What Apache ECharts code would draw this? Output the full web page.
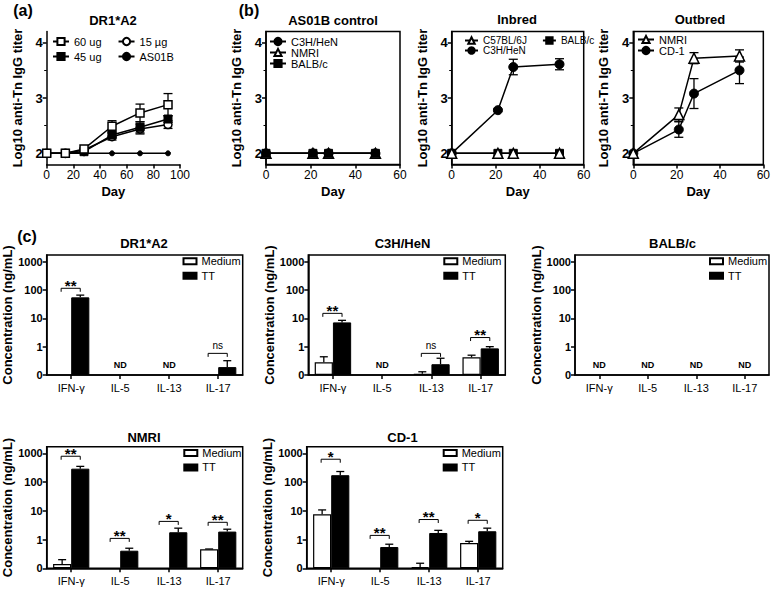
<!DOCTYPE html>
<html><head><meta charset="utf-8">
<script src="https://cdn.jsdelivr.net/npm/echarts@6/dist/echarts.min.js"></script>
<style>html,body{margin:0;padding:0;background:#fff}#c{width:773px;height:589px}</style>
</head><body><div id="c"></div>
<script>
// ================= DATA =================
// (a) DR1*A2 titers
const daysA = [0, 14, 28, 49, 70, 91];
const dr1_60 = [2, 2, 2.08, 2.49, 2.73, 2.88];
const dr1_60Err = [0, 0, 0.02, 0.10, 0.16, 0.20];
const dr1_45 = [2, 2, 2.03, 2.33, 2.47, 2.62];
const dr1_45Err = [0, 0, 0.02, 0.05, 0.10, 0.06];
const dr1_15 = [2, 2, 2.06, 2.30, 2.44, 2.52];
const dr1_15Err = [0, 0, 0.02, 0.06, 0.09, 0.07];
const dr1_AS01B = [2, 2, 2, 2, 2, 2];
// (b) titers
const daysB = [0, 21, 28, 49];
const ctrlC3H = [2, 2, 2, 2];
const ctrlNMRI = [2, 2, 2, 2];
const ctrlBALB = [2, 2, 2, 2];
const inbC57 = [2, 2, 2, 2];
const inbC3H = [2, 2.78, 3.56, 3.61];
const inbC3HErr = [0, 0.02, 0.14, 0.10];
const inbBALB = [2, 2, 2, 2];
const outNMRI = [2, 2.70, 3.72, 3.76];
const outNMRIErr = [0, 0.12, 0.10, 0.11];
const outCD1 = [2, 2.43, 3.08, 3.50];
const outCD1Err = [0, 0.14, 0.27, 0.24];
const titerTicks = [2, 3, 4];
const titerMinorTicks = [2.5, 3.5];

// (c) cytokines (ng/mL); null = no bar; 0.1 is the axis floor labelled "0"
const cytokines = ['IFN-γ', 'IL-5', 'IL-13', 'IL-17'];
const concTicks = [0.1, 1, 10, 100, 1000];

const dr1Medium = [null, null, null, null];
const dr1MediumErr = [0, 0, 0, 0];
const dr1TT = [55, null, null, 0.19];
const dr1TTErr = [11, 0, 0, 0.13];
const dr1ND = [0, 1, 1, 0];
const dr1SigText = ['**', null, null, 'ns'];
const dr1SigLevel = [115, null, null, 0.58];

const c3hMedium = [0.28, null, 0.11, 0.42];
const c3hMediumErr = [0.16, 0, 0.02, 0.08];
const c3hTT = [7.2, null, 0.24, 0.87];
const c3hTTErr = [1.3, 0, 0.15, 0.13];
const c3hND = [0, 1, 0, 0];
const c3hSigText = ['**', null, 'ns', '**'];
const c3hSigLevel = [15, null, 0.58, 2.1];

const balbMedium = [null, null, null, null];
const balbMediumErr = [0, 0, 0, 0];
const balbTT = [null, null, null, null];
const balbTTErr = [0, 0, 0, 0];
const balbND = [1, 1, 1, 1];
const balbSigText = [null, null, null, null];
const balbSigLevel = [null, null, null, null];

const nmriMedium = [0.14, null, null, 0.46];
const nmriMediumErr = [0.06, 0, 0, 0.01];
const nmriTT = [295, 0.41, 1.8, 1.9];
const nmriTTErr = [60, 0.09, 0.7, 0.4];
const nmriND = [0, 0, 0, 0];
const nmriSigText = ['**', '**', '*', '**'];
const nmriSigLevel = [800, 1.1, 4.3, 4.0];

const cd1Medium = [7.6, null, 0.11, 0.76];
const cd1MediumErr = [3.2, 0, 0.04, 0.11];
const cd1TT = [175, 0.55, 1.7, 1.95];
const cd1TTErr = [60, 0.14, 0.4, 0.55];
const cd1ND = [0, 0, 0, 0];
const cd1SigText = ['*', '**', '**', '*'];
const cd1SigLevel = [630, 1.4, 5.0, 4.7];

// ================= CHART =================
const FONT = "'Liberation Sans', Arial, Helvetica, sans-serif";
const K = '#000';
const chart = echarts.init(document.getElementById('c'), null, {renderer: 'svg', width: 773, height: 589});
const grids = [], xAxes = [], yAxes = [], series = [], legends = [], texts = [];
const axisLineStyle = {color: K, width: 1.5};

function linePanel(left, width, xMax, boxed) {
  grids.push({left: left, top: 31.6, width: width, height: 132.8, show: boxed,
    borderColor: K, borderWidth: 1.5, backgroundColor: 'transparent'});
  const gi = grids.length - 1;
  xAxes.push({gridIndex: gi, type: 'value', min: 0, max: xMax, interval: 20,
    axisLine: {show: true, onZero: false, lineStyle: axisLineStyle},
    axisTick: {show: true, length: 4, lineStyle: axisLineStyle},
    axisLabel: {color: K, fontSize: 12, fontFamily: FONT, margin: 5},
    splitLine: {show: false},
    name: 'Day', nameLocation: 'middle', nameGap: 21,
    nameTextStyle: {color: K, fontSize: 13, fontWeight: 'bold', fontFamily: FONT}});
  const xi = xAxes.length - 1;
  yAxes.push({gridIndex: gi, type: 'value', min: 1.8, max: 4.2, position: 'left',
    axisLine: {show: true, onZero: false, lineStyle: axisLineStyle},
    axisTick: {show: true, length: 4, customValues: titerTicks, lineStyle: axisLineStyle},
    axisLabel: {customValues: titerTicks, color: K, fontSize: 13, fontWeight: 'bold', fontFamily: FONT, margin: 4},
    splitLine: {show: false},
    name: 'Log10 anti-Tn IgG titer', nameLocation: 'middle', nameGap: 23,
    nameTextStyle: {color: K, fontSize: 13, fontWeight: 'bold', fontFamily: FONT}});
  const yi = yAxes.length - 1;
  yAxes.push({gridIndex: gi, type: 'value', min: 1.8, max: 4.2, position: 'left',
    axisLine: {show: false}, axisLabel: {show: false}, splitLine: {show: false},
    axisTick: {show: true, length: 2.5, customValues: titerMinorTicks, lineStyle: {color: K, width: 1}}});
  return {xi: xi, yi: yi};
}

const STY = {
  openSquare: {symbol: 'rect', symbolSize: 8, itemStyle: {color: '#fff', borderColor: K, borderWidth: 1.5}},
  fillSquare: {symbol: 'rect', symbolSize: 8, itemStyle: {color: K, borderColor: K, borderWidth: 1}},
  openCircle: {symbol: 'circle', symbolSize: 8, itemStyle: {color: '#fff', borderColor: K, borderWidth: 1.5}},
  dot: {symbol: 'circle', symbolSize: 5, itemStyle: {color: K, borderColor: K, borderWidth: 1}},
  fillCircle: {symbol: 'circle', symbolSize: 9, itemStyle: {color: K, borderColor: K, borderWidth: 1}},
  openTri: {symbol: 'triangle', symbolSize: 10, itemStyle: {color: '#fff', borderColor: K, borderWidth: 1.5}}
};

function errLineRender(params, api) {
  const x = api.value(0), y = api.value(1), e = api.value(2);
  const t = api.coord([x, y + e]), b = api.coord([x, y - e]);
  const c = 4.5, st = {stroke: K, lineWidth: 1.3};
  return {type: 'group', children: [
    {type: 'line', shape: {x1: t[0], y1: t[1], x2: b[0], y2: b[1]}, style: st},
    {type: 'line', shape: {x1: t[0] - c, y1: t[1], x2: t[0] + c, y2: t[1]}, style: st},
    {type: 'line', shape: {x1: b[0] - c, y1: b[1], x2: b[0] + c, y2: b[1]}, style: st}
  ]};
}

function addLine(p, name, days, vals, errs, sty, z) {
  series.push(Object.assign({type: 'line', name: name, xAxisIndex: p.xi, yAxisIndex: p.yi,
    data: days.map((d, i) => [d, vals[i]]), showSymbol: true, z: z || 3,
    lineStyle: {color: K, width: 1.5}, animation: false}, sty));
  if (errs) {
    series.push({type: 'custom', xAxisIndex: p.xi, yAxisIndex: p.yi, renderItem: errLineRender,
      encode: {x: 0, y: 1}, z: 2,
      data: days.map((d, i) => [d, vals[i], errs[i]]).filter(r => r[2] > 0)});
  }
}

const lineLegendBase = {selectedMode: false, padding: 0, itemWidth: 16, itemHeight: 9,
  textStyle: {color: K, fontSize: 11, fontFamily: FONT}};

// (a)
const pA = linePanel(46.7, 133.3, 100, false);
addLine(pA, 'AS01B', daysA, dr1_AS01B, null, STY.dot, 3);
addLine(pA, '15 µg', daysA, dr1_15, dr1_15Err, STY.openCircle, 4);
addLine(pA, '45 ug', daysA, dr1_45, dr1_45Err, STY.fillSquare, 5);
addLine(pA, '60 ug', daysA, dr1_60, dr1_60Err, STY.openSquare, 6);
legends.push(Object.assign({}, lineLegendBase, {left: 52, top: 36, itemGap: 16, data: ['60 ug', '15 µg']}));
legends.push(Object.assign({}, lineLegendBase, {left: 52, top: 51, itemGap: 16, data: ['45 ug', 'AS01B']}));

// (b) AS01B control
const pB1 = linePanel(266, 134, 60, true);
addLine(pB1, 'C3H/HeN', daysB, ctrlC3H, null, STY.fillCircle, 3);
addLine(pB1, 'NMRI', daysB, ctrlNMRI, null, STY.openTri, 4);
addLine(pB1, 'BALB/c', daysB, ctrlBALB, null, STY.fillSquare, 5);
legends.push(Object.assign({}, lineLegendBase, {left: 269, top: 36, orient: 'vertical', itemGap: 0,
  data: ['C3H/HeN', 'NMRI', 'BALB/c']}));

// Inbred
const pB2 = linePanel(451.7, 132, 60, true);
addLine(pB2, 'C3H/HeN', daysB, inbC3H, inbC3HErr, STY.fillCircle, 3);
addLine(pB2, 'BALB/c', daysB, inbBALB, null, STY.fillSquare, 4);
addLine(pB2, 'C57BL/6J', daysB, inbC57, null, STY.openTri, 5);
const inbLeg = Object.assign({}, lineLegendBase, {itemWidth: 13, itemHeight: 8,
  textStyle: {color: K, fontSize: 10, lineHeight: 10, fontFamily: FONT}});
legends.push(Object.assign({}, inbLeg, {left: 464, top: 35.5, itemGap: 15, data: ['C57BL/6J', 'BALB/c']}));
legends.push(Object.assign({}, inbLeg, {left: 464, top: 45.5, data: ['C3H/HeN']}));

// Outbred
const pB3 = linePanel(633.3, 133, 60, true);
addLine(pB3, 'CD-1', daysB, outCD1, outCD1Err, STY.fillCircle, 3);
addLine(pB3, 'NMRI', daysB, outNMRI, outNMRIErr, STY.openTri, 4);
legends.push(Object.assign({}, lineLegendBase, {left: 637, top: 34, orient: 'vertical', itemGap: 0,
  data: ['NMRI', 'CD-1']}));

// ---- bar panels ----
const BAR_FRAC = 0.37;
function barErrRender(params, api) {
  const ci = api.value(0), v = api.value(1), e = api.value(2), side = api.value(3);
  const band = api.size([1, 0])[0], bw = band * BAR_FRAC;
  const b = api.coord([ci, v]), t = api.coord([ci, v + e]);
  const x = b[0] + (side ? bw / 2 : -bw / 2), c = 4;
  const st = {stroke: K, lineWidth: 1.3};
  return {type: 'group', children: [
    {type: 'line', shape: {x1: x, y1: b[1], x2: x, y2: t[1]}, style: st},
    {type: 'line', shape: {x1: x - c, y1: t[1], x2: x + c, y2: t[1]}, style: st}
  ]};
}
const sigLabels = {};
function sigRender(params, api) {
  const ci = api.value(0), lv = api.value(1);
  const label = sigLabels[params.seriesIndex][params.dataIndex];
  const band = api.size([1, 0])[0], bw = band * BAR_FRAC;
  const p = api.coord([ci, lv]);
  const x1 = p[0] - bw / 2 - 1, x2 = p[0] + bw / 2, y = p[1];
  const isNs = label === 'ns';
  return {type: 'group', children: [
    {type: 'polyline', shape: {points: [[x1, y + 3.5], [x1, y], [x2, y], [x2, y + 3.5]]},
      style: {stroke: K, lineWidth: 1, fill: null}},
    {type: 'text', style: {text: label, x: (x1 + x2) / 2, y: isNs ? y - 8 : y - 3,
      align: 'center', verticalAlign: 'middle', textAlign: 'center', textVerticalAlign: 'middle',
      font: isNs ? ('10px ' + FONT) : ('bold 15px ' + FONT), fill: K}}
  ]};
}
function ndRender(params, api) {
  const p = api.coord([api.value(0), api.value(1)]);
  return {type: 'text', style: {text: 'ND', x: p[0], y: p[1] - 10, align: 'center', verticalAlign: 'middle',
    textAlign: 'center', textVerticalAlign: 'middle', font: 'bold 9px ' + FONT, fill: K}};
}

function barPanel(left, top, width, height, med, medErr, tt, ttErr, nd, sigText, sigLevel, legLeft) {
  grids.push({left: left, top: top, width: width, height: height, show: true,
    borderColor: K, borderWidth: 1.5, backgroundColor: 'transparent'});
  const gi = grids.length - 1;
  xAxes.push({gridIndex: gi, type: 'category', data: cytokines,
    axisLine: {show: true, onZero: false, lineStyle: axisLineStyle},
    axisTick: {show: true, alignWithLabel: true, length: 4, lineStyle: axisLineStyle},
    axisLabel: {color: K, fontSize: 11, fontFamily: FONT, margin: 7}, splitLine: {show: false}});
  const xi = xAxes.length - 1;
  yAxes.push({gridIndex: gi, type: 'log', logBase: 10, min: 0.1, max: 1720, startValue: 0.1, position: 'left',
    axisLine: {show: true, onZero: false, lineStyle: axisLineStyle},
    axisTick: {show: true, length: 4, customValues: concTicks, lineStyle: axisLineStyle},
    axisLabel: {customValues: concTicks, color: K, fontSize: 11, fontWeight: 'bold', fontFamily: FONT, margin: 4,
      formatter: v => (v < 0.5 ? '0' : String(Math.round(v)))},
    splitLine: {show: false},
    name: 'Concentration (ng/mL)', nameLocation: 'middle', nameGap: 27,
    nameTextStyle: {color: K, fontSize: 13, fontWeight: 'bold', fontFamily: FONT}});
  const yi = yAxes.length - 1;
  series.push({type: 'bar', name: 'Medium', xAxisIndex: xi, yAxisIndex: yi, data: med,
    barGap: '0%', barCategoryGap: '26%', itemStyle: {color: '#fff', borderColor: K, borderWidth: 1.2}, z: 2});
  series.push({type: 'bar', name: 'TT', xAxisIndex: xi, yAxisIndex: yi, data: tt,
    barGap: '0%', barCategoryGap: '26%', itemStyle: {color: K, borderColor: K, borderWidth: 1}, z: 2});
  const errData = [];
  med.forEach((v, i) => { if (v != null && medErr[i] > 0) errData.push([i, v, medErr[i], 0]); });
  tt.forEach((v, i) => { if (v != null && ttErr[i] > 0) errData.push([i, v, ttErr[i], 1]); });
  series.push({type: 'custom', xAxisIndex: xi, yAxisIndex: yi, renderItem: barErrRender,
    encode: {x: 0, y: 1}, data: errData, z: 1});
  const sd = [], sl = [];
  sigText.forEach((s, i) => { if (s) { sd.push([i, sigLevel[i]]); sl.push(s); } });
  series.push({type: 'custom', xAxisIndex: xi, yAxisIndex: yi, renderItem: sigRender,
    encode: {x: 0, y: 1}, data: sd, z: 3});
  sigLabels[series.length - 1] = sl;
  const ndd = [];
  nd.forEach((f, i) => { if (f) ndd.push([i, 0.1]); });
  series.push({type: 'custom', xAxisIndex: xi, yAxisIndex: yi, renderItem: ndRender,
    encode: {x: 0, y: 1}, data: ndd, z: 3});
  legends.push({selectedMode: false, padding: 0, orient: 'vertical', left: legLeft, top: top,
    icon: 'rect', itemWidth: 13, itemHeight: 6, itemGap: 2,
    textStyle: {color: K, fontSize: 11, lineHeight: 12.5, fontFamily: FONT}, data: ['Medium', 'TT']});
}

barPanel(46.7, 255, 196, 120, dr1Medium, dr1MediumErr, dr1TT, dr1TTErr, dr1ND, dr1SigText, dr1SigLevel, 182.5);
barPanel(308.3, 255, 197, 120, c3hMedium, c3hMediumErr, c3hTT, c3hTTErr, c3hND, c3hSigText, c3hSigLevel, 443.3);
barPanel(575, 255, 194, 120, balbMedium, balbMediumErr, balbTT, balbTTErr, balbND, balbSigText, balbSigLevel, 709);
barPanel(46.7, 446.7, 196, 121.6, nmriMedium, nmriMediumErr, nmriTT, nmriTTErr, nmriND, nmriSigText, nmriSigLevel, 183.3);
barPanel(306.7, 446.7, 196, 121.6, cd1Medium, cd1MediumErr, cd1TT, cd1TTErr, cd1ND, cd1SigText, cd1SigLevel, 442.7);

// ---- titles ----
function addText(t, x, y, size) {
  texts.push({type: 'text', x: x, y: y, style: {text: t, x: 0, y: 0, font: 'bold ' + size + 'px ' + FONT,
    fill: K, align: 'center', verticalAlign: 'middle', textAlign: 'center', textVerticalAlign: 'middle'}});
}
addText('(a)', 23, 10, 16);
addText('(b)', 249, 10, 16);
addText('(c)', 27, 236, 16);
addText('DR1*A2', 113, 20, 13);
addText('AS01B control', 333, 20, 13);
addText('Inbred', 517, 19, 13);
addText('Outbred', 700, 19, 13);
addText('DR1*A2', 144, 243, 13);
addText('C3H/HeN', 402.5, 243, 13);
addText('BALB/c', 672.5, 243, 13);
addText('NMRI', 144, 437, 13);
addText('CD-1', 402.5, 437, 13);

chart.setOption({
  animation: false,
  backgroundColor: '#fff',
  textStyle: {fontFamily: FONT},
  grid: grids, xAxis: xAxes, yAxis: yAxes, series: series, legend: legends,
  graphic: {elements: texts}
});
</script>
</body></html>
